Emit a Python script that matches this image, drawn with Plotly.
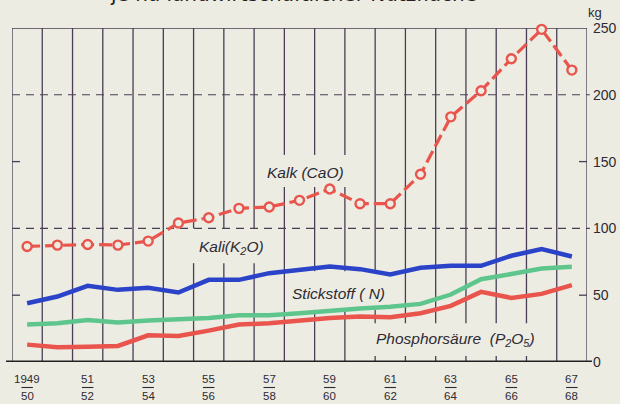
import plotly.graph_objects as go

# ---------------- data ----------------
seasons = ["1949/50", "1950/51", "1951/52", "1952/53", "1953/54", "1954/55",
           "1955/56", "1956/57", "1957/58", "1958/59", "1959/60", "1960/61",
           "1961/62", "1962/63", "1963/64", "1964/65", "1965/66", "1966/67",
           "1967/68"]
kalk = [86.5, 87.5, 88, 87.5, 90.5, 104, 108, 115, 116, 121, 129.5, 118.5,
        118.5, 140.5, 183.5, 203, 227, 249, 218.5]
kali = [44, 49, 57, 54, 55.5, 52, 61.5, 61.5, 66.5, 69, 71.5, 69.5, 65.5,
        70.5, 72, 72, 79.5, 84.5, 79]
stickstoff = [28, 29, 31.5, 29.5, 31, 32, 33, 35, 35, 36.5, 38.5, 40, 41.3,
              43.5, 50.5, 62, 65.8, 70, 71.3]
phosphor = [13, 11, 11.5, 12, 20, 19.5, 23.5, 28, 29, 31, 33, 34, 33.5, 36.5,
            42, 52.5, 48, 51, 57.5]
label_top = ["1949", "51", "53", "55", "57", "59", "61", "63", "65", "67"]
label_bottom = ["50", "52", "54", "56", "58", "60", "62", "64", "66", "68"]
y_ticks = [0, 50, 100, 150, 200, 250]

# ---------------- style ----------------
BG = "#ecece3"
GRID = "#4a3d55"
TXT = "#2e2a33"
RED = "#e9554d"
BLUE = "#2b43c8"
GREEN = "#5ec68c"
W, H = 620, 404
ML, MR, MT, MB = 12, 33, 28, 42
PW, PH = W - ML - MR, H - MT - MB

def py(px):  # pixel row -> paper y
    return (H - MB - px) / PH

def pxx(px):  # pixel column -> paper x
    return (px - ML) / PW

fig = go.Figure()
fig.add_trace(go.Scatter(x=seasons, y=phosphor, mode="lines",
                         line=dict(color=RED, width=4.5), showlegend=False))
fig.add_trace(go.Scatter(x=seasons, y=stickstoff, mode="lines",
                         line=dict(color=GREEN, width=4.5), showlegend=False))
fig.add_trace(go.Scatter(x=seasons, y=kali, mode="lines",
                         line=dict(color=BLUE, width=4.5), showlegend=False))
fig.add_trace(go.Scatter(x=seasons, y=kalk, mode="lines+markers",
                         line=dict(color=RED, width=3.2, dash="13px,5px"),
                         marker=dict(symbol="circle", size=9, color=BG,
                                     line=dict(color=RED, width=2.4)),
                         cliponaxis=False, showlegend=False))

shapes = []
# vertical grid lines with gaps behind labels
gaps = {
    5.5: [(74, 100)], 6.5: [(74, 100)], 7.5: [(74, 100)],
    8.5: [(131, 155)], 9.5: [(131, 155), (39, 68)], 10.5: [(131, 155), (39, 68)],
    11.5: [(39, 68), (4.5, 29)], 12.5: [(4.5, 29)], 13.5: [(4.5, 29)],
    14.5: [(4.5, 29)], 15.5: [(4.5, 29)], 16.5: [(4.5, 29)],
}
for k in range(len(seasons) + 1):
    xv = k - 0.5
    segs = []
    start = 0
    for g0, g1 in sorted(gaps.get(xv, [])):
        segs.append((start, g0))
        start = g1
    segs.append((start, 250))
    for a, b in segs:
        shapes.append(dict(type="line", xref="x", yref="y", x0=xv, x1=xv,
                           y0=a, y1=b, line=dict(color=GRID, width=1.3),
                           layer="below"))
# top border
shapes.append(dict(type="line", xref="paper", yref="y", x0=0, x1=1, y0=250,
                   y1=250, line=dict(color=GRID, width=1.3), layer="below"))
# dashed lines at 100 and 200
for v in (100, 200):
    shapes.append(dict(type="line", xref="paper", yref="y", x0=0, x1=1.005,
                       y0=v, y1=v, line=dict(color=GRID, width=1.1, dash="8px,6px"),
                       layer="below"))
# inward ticks at 50 and 150
for v in (50, 150):
    shapes.append(dict(type="line", xref="paper", yref="y", x0=0, x1=pxx(20),
                       y0=v, y1=v, line=dict(color=GRID, width=1.3), layer="below"))
    shapes.append(dict(type="line", xref="paper", yref="y", x0=pxx(579), x1=1,
                       y0=v, y1=v, line=dict(color=GRID, width=1.3), layer="below"))
# baseline
shapes.append(dict(type="line", xref="paper", yref="y", x0=pxx(6), x1=pxx(592),
                   y0=0, y1=0, line=dict(color="#222222", width=3)))

annotations = []
# x-axis fraction labels
xl_font = dict(family="Liberation Sans", size=11.5, color=TXT)
for j, (t, b) in enumerate(zip(label_top, label_bottom)):
    xi = 2 * j
    annotations.append(dict(x=seasons[xi], y=py(379), xref="x", yref="paper",
                            yanchor="middle", text=t, showarrow=False,
                            font=xl_font))
    annotations.append(dict(x=seasons[xi], y=py(396), xref="x", yref="paper",
                            yanchor="middle", text=b, showarrow=False,
                            font=xl_font))
    shapes.append(dict(type="line", xref="x", yref="paper", x0=xi - 0.19,
                       x1=xi + 0.19, y0=py(387.5), y1=py(387.5),
                       line=dict(color=TXT, width=1.1)))

lab_font = dict(family="Liberation Sans", size=15.5, color=TXT)
annotations += [
    dict(x=9.2, y=142, xref="x", yref="y", text="<i>Kalk (CaO)</i>",
         yanchor="middle", showarrow=False, font=lab_font),
    dict(x=6.75, y=85.5, xref="x", yref="y", text="<i>Kali(K<sub>2</sub>O)</i>",
         yanchor="middle", showarrow=False, font=lab_font),
    dict(x=10.3, y=51.5, xref="x", yref="y", text="<i>Stickstoff ( N)</i>",
         yanchor="middle", showarrow=False, font=lab_font),
    dict(x=14.17, y=17, xref="x", yref="y",
         text="<i>Phosphorsäure  (P<sub>2</sub>O<sub>5</sub>)</i>",
         yanchor="middle", showarrow=False, font=lab_font),
    dict(x=pxx(604), y=py(12), xref="paper", yref="paper", text="kg",
         yanchor="middle", showarrow=False,
         font=dict(family="Liberation Sans", size=13, color=TXT)),
    dict(x=pxx(478), y=py(7), xref="paper", yref="paper", xanchor="right",
         yanchor="bottom", borderpad=0,
         text="je ha landwirtschaftlicher Nutzfläche", showarrow=False,
         font=dict(family="DejaVu Sans", size=20, color="#222222")),
]

fig.update_layout(
    width=W, height=H,
    margin=dict(l=ML, r=MR, t=MT, b=MB, pad=0, autoexpand=False),
    paper_bgcolor=BG, plot_bgcolor=BG,
    xaxis=dict(type="category", range=[-0.5, len(seasons) - 0.5],
               showgrid=False, zeroline=False, showticklabels=False,
               ticks="", showline=False, fixedrange=True, automargin=False),
    yaxis=dict(range=[0, 250], side="right", tickvals=y_ticks,
               showgrid=False, zeroline=False, ticks="", showline=False,
               automargin=False, ticklabelstandoff=5,
               tickfont=dict(family="Liberation Sans", size=14, color=TXT)),
    shapes=shapes, annotations=annotations,
)

fig.write_html("out.html", config={"displayModeBar": False},
               post_script="document.body.style.margin='0';"
                           "document.body.style.background='" + BG + "';")
